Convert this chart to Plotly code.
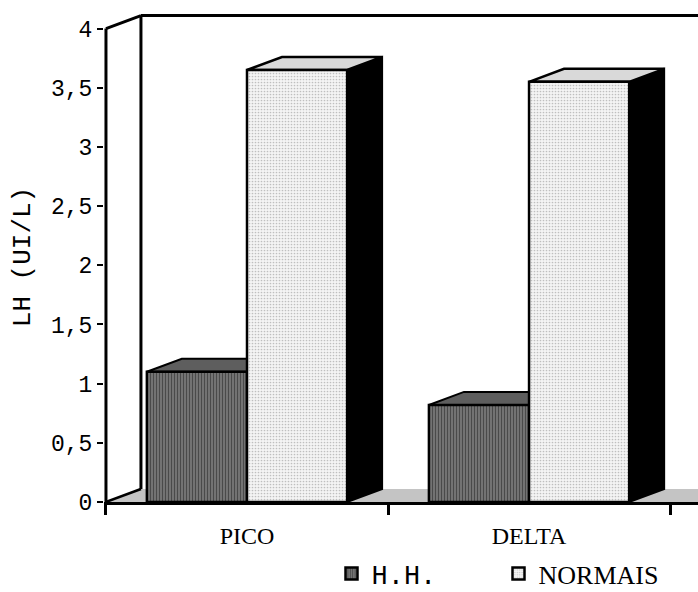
import plotly.graph_objects as go

# ---------------- data ----------------
categories = ["PICO", "DELTA"]
category_pos = [0, 1]
hh_values = [1.10, 0.82]
normais_values = [3.65, 3.55]
series_names = ["H.H.", "NORMAIS"]
y_tickvals = [0, 0.5, 1, 1.5, 2, 2.5, 3, 3.5, 4]
y_ticktext = ["0", "0,5", "1", "1,5", "2", "2,5", "3", "3,5", "4"]
y_title = "LH (UI/L)"

# ---------------- geometry (data units) ----------------
BAR_W = 0.355      # width of one bar
DX = 0.124         # 3D depth offset along x
DY = 0.11          # 3D depth offset along y
X_MIN, X_MAX = -0.507, 1.599
Y_MAX = 4.14
AX_X = -0.5        # front y-axis position

def path(pts):
    return "M " + " L ".join(f"{x},{y}" for x, y in pts) + " Z"

shapes = []
# floor
shapes.append(dict(type="path", xref="x", yref="y", layer="below",
                   path=path([(AX_X, 0), (AX_X + DX, DY), (X_MAX + 0.1, DY), (X_MAX + 0.1, 0)]),
                   fillcolor="#c4c4c4", line=dict(width=0)))
# floor diagonal at left
shapes.append(dict(type="line", xref="x", yref="y", layer="below",
                   x0=AX_X, y0=0, x1=AX_X + DX, y1=DY, line=dict(color="black", width=2.5)))
# back wall vertical edge
shapes.append(dict(type="line", xref="x", yref="y", layer="below",
                   x0=AX_X + DX, y0=DY, x1=AX_X + DX, y1=4 + DY, line=dict(color="black", width=3)))
# wall top: diagonal + horizontal
shapes.append(dict(type="line", xref="x", yref="y", layer="below",
                   x0=AX_X, y0=4, x1=AX_X + DX, y1=4 + DY, line=dict(color="black", width=3)))
shapes.append(dict(type="line", xref="x", yref="y", layer="below",
                   x0=AX_X + DX, y0=4 + DY, x1=X_MAX + 0.1, y1=4 + DY, line=dict(color="black", width=3)))

# 3D faces of bars
for xc, hv, nv in zip(category_pos, hh_values, normais_values):
    # H.H. bar: x from xc-BAR_W to xc
    x0, x1 = xc - BAR_W, xc
    shapes.append(dict(type="path", xref="x", yref="y", layer="below",
                       path=path([(x0, hv), (x0 + DX, hv + DY), (x1 + DX, hv + DY), (x1, hv)]),
                       fillcolor="#5e5e5e", line=dict(color="black", width=2)))
    # NORMAIS bar: x from xc to xc+BAR_W
    x0, x1 = xc, xc + BAR_W
    shapes.append(dict(type="path", xref="x", yref="y", layer="below",
                       path=path([(x1, 0), (x1 + DX, DY), (x1 + DX, nv + DY), (x1, nv)]),
                       fillcolor="black", line=dict(color="black", width=2)))
    shapes.append(dict(type="path", xref="x", yref="y", layer="below",
                       path=path([(x0, nv), (x0 + DX, nv + DY), (x1 + DX, nv + DY), (x1, nv)]),
                       fillcolor="#d9d9d9", line=dict(color="black", width=2.5)))

# front y axis line
shapes.append(dict(type="line", xref="x", yref="y", layer="above",
                   x0=AX_X, y0=0, x1=AX_X, y1=4, line=dict(color="black", width=3)))

fig = go.Figure()
fig.add_trace(go.Bar(
    x=category_pos, y=hh_values, name=series_names[0],
    width=BAR_W, offset=-BAR_W,
    marker=dict(color="#141414", line=dict(color="black", width=2.5),
                pattern=dict(shape="|", size=3, solidity=0.5,
                             fgcolor="#141414", bgcolor="#808080")),
))
fig.add_trace(go.Bar(
    x=category_pos, y=normais_values,
    name='<span style="font-family:Liberation Serif;font-size:26px">' + series_names[1] + '</span>',
    width=BAR_W, offset=0,
    marker=dict(color="#8a8a8a", line=dict(color="black", width=2.5),
                pattern=dict(shape=".", size=3, solidity=0.25,
                             fgcolor="#8a8a8a", bgcolor="#f4f4f4")),
))

fig.update_layout(
    width=698, height=592,
    margin=dict(l=104, r=0, t=12, b=90, autoexpand=False),
    paper_bgcolor="white", plot_bgcolor="white",
    barmode="overlay",
    showlegend=True,
    shapes=shapes,
    legend=dict(orientation="h", x=0.383, y=-0.147, xanchor="left", yanchor="middle",
                font=dict(family="Liberation Mono", size=27, color="black"),
                entrywidth=122, traceorder="normal", bgcolor="rgba(0,0,0,0)"),
    xaxis=dict(range=[X_MIN, X_MAX], showgrid=False, zeroline=False,
               showline=True, linecolor="black", linewidth=3,
               tickmode="array", tickvals=category_pos, ticktext=categories,
               ticks="", ticklabelstandoff=10,
               tickfont=dict(family="Liberation Serif", size=24, color="black"),
               minor=dict(tickmode="array", tickvals=[-0.5, 0.5, 1.5], ticks="outside",
                          ticklen=10, tickwidth=3, tickcolor="black", showgrid=False)),
    yaxis=dict(range=[0, Y_MAX], showgrid=False, zeroline=False, showline=False,
               tickmode="array", tickvals=y_tickvals, ticktext=y_ticktext,
               ticks="outside", ticklen=6, tickwidth=2, tickcolor="black",
               tickfont=dict(family="Liberation Mono", size=23, color="black"),
               title=dict(text=y_title, standoff=12,
                          font=dict(family="Liberation Mono", size=26, color="black"))),
)

fig.write_html("out.html")
